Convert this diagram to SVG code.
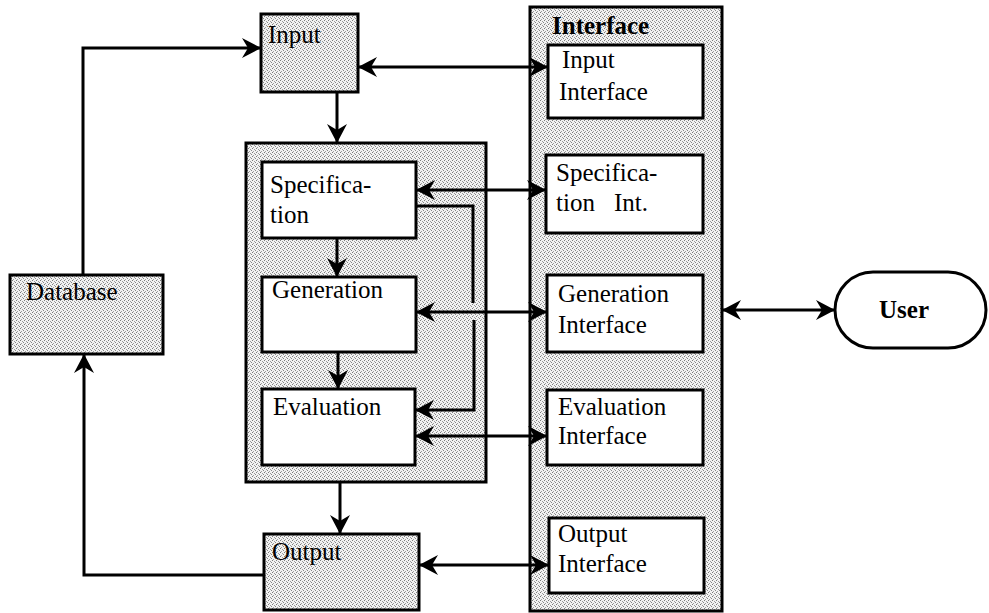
<svg xmlns="http://www.w3.org/2000/svg" width="989" height="613" viewBox="0 0 989 613">
<style>
.sh{fill:url(#stip);stroke:#000;stroke-width:3}
.wb{fill:#fff;stroke:#000;stroke-width:3}
.t{font-family:"Liberation Serif","Times New Roman",serif;font-size:25px;fill:#000}
.b{font-weight:bold}
.ln{fill:none;stroke:#000;stroke-width:3}
.a1{marker-end:url(#ah)}
.a2{marker-start:url(#ahs);marker-end:url(#ah)}
</style>
<defs>
<pattern id="stip" width="4" height="4" patternUnits="userSpaceOnUse">
<rect width="4" height="4" fill="#f2f2f2"/>
<rect x="0" y="0" width="1" height="1" fill="#7a7a7a"/>
<rect x="2" y="1" width="1" height="1" fill="#9a9a9a"/>
<rect x="3" y="2" width="1" height="1" fill="#858585"/>
<rect x="1" y="3" width="1" height="1" fill="#a0a0a0"/>
</pattern>
<marker id="ah" markerUnits="userSpaceOnUse" markerWidth="22" markerHeight="22" refX="19" refY="11" orient="auto">
<path d="M0,1 L19,11 L0,21 L6,11 z" fill="#000"/>
</marker>
<marker id="ahs" markerUnits="userSpaceOnUse" markerWidth="22" markerHeight="22" refX="3" refY="11" orient="auto">
<path d="M22,1 L3,11 L22,21 L16,11 z" fill="#000"/>
</marker>
</defs>

<g id="panel-core"><rect class="sh" x="246" y="143" width="240" height="339"/></g>
<g id="panel-interface"><rect class="sh" x="530" y="7" width="192" height="604"/><text class="t b" x="552" y="34">Interface</text></g>

<g id="input"><rect class="sh" x="261" y="14" width="97" height="78"/><text class="t" x="268" y="43">Input</text></g>
<g id="database"><rect class="sh" x="10" y="275" width="153" height="79"/><text class="t" x="26" y="300">Database</text></g>
<g id="output"><rect class="sh" x="264" y="534" width="155" height="76"/><text class="t" x="272" y="560">Output</text></g>

<g id="specification"><rect class="wb" x="262" y="162" width="154" height="76"/><text class="t" x="270" y="193">Specifica-</text><text class="t" x="270" y="223">tion</text></g>
<g id="generation"><rect class="wb" x="262" y="277" width="154" height="75"/><text class="t" x="272" y="298">Generation</text></g>
<g id="evaluation"><rect class="wb" x="262" y="389" width="153" height="76"/><text class="t" x="273" y="415">Evaluation</text></g>

<g id="input-interface"><rect class="wb" x="548" y="45" width="155" height="73"/><text class="t" x="562" y="68">Input</text><text class="t" x="559" y="100">Interface</text></g>
<g id="spec-interface"><rect class="wb" x="546" y="155" width="157" height="78"/><text class="t" x="556" y="181">Specifica-</text><text class="t" x="556" y="211">tion</text><text class="t" x="614" y="211">Int.</text></g>
<g id="gen-interface"><rect class="wb" x="547" y="275" width="156" height="77"/><text class="t" x="558" y="302">Generation</text><text class="t" x="558" y="333">Interface</text></g>
<g id="eval-interface"><rect class="wb" x="547" y="390" width="156" height="75"/><text class="t" x="558" y="415">Evaluation</text><text class="t" x="558" y="444">Interface</text></g>
<g id="output-interface"><rect class="wb" x="549" y="518" width="155" height="75"/><text class="t" x="558" y="542">Output</text><text class="t" x="558" y="572">Interface</text></g>

<g id="user"><rect class="wb" x="835" y="272" width="151" height="76" rx="38" ry="38"/><text class="t b" x="904" y="318" text-anchor="middle">User</text></g>

<g id="connectors">
<path class="ln a1" d="M83,275 V48 H261"/>
<path class="ln a1" d="M264,575 H84 V354"/>
<path class="ln a1" d="M337,92 V143"/>
<path class="ln a1" d="M337,238 V277"/>
<path class="ln a1" d="M338,352 V389"/>
<path class="ln a1" d="M340,482 V534"/>
<path class="ln" d="M416,206 H473 V303"/>
<path class="ln a1" d="M474,320 V410 H415"/>
<path class="ln a2" d="M358,67 H548"/>
<path class="ln a2" d="M416,190 H546"/>
<path class="ln a2" d="M416,312 H547"/>
<path class="ln a2" d="M415,436 H547"/>
<path class="ln a2" d="M419,565 H549"/>
<path class="ln a2" d="M722,310 H835"/>
</g>
</svg>
